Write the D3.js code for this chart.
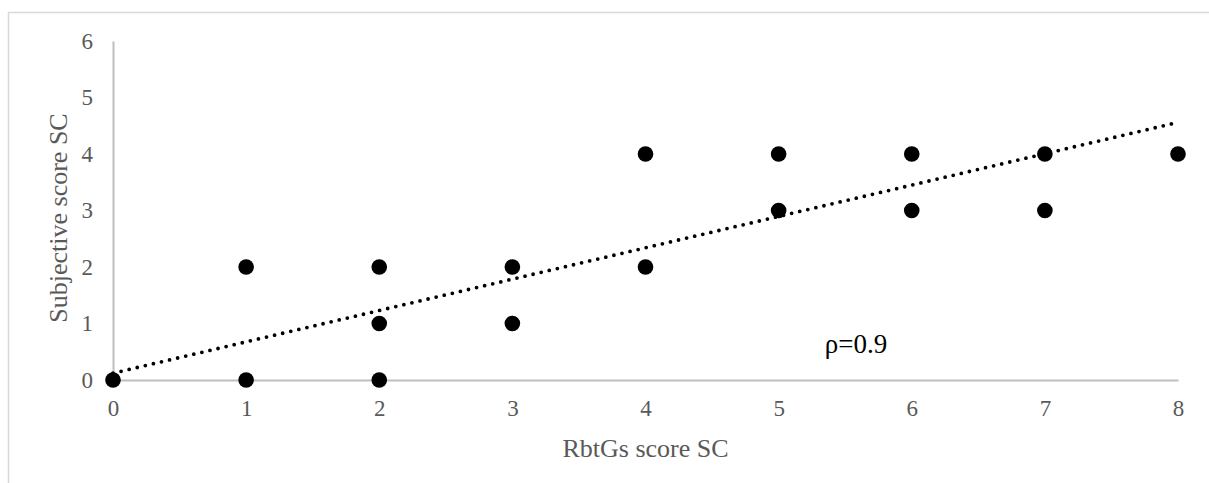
<!DOCTYPE html>
<html>
<head>
<meta charset="utf-8">
<script src="https://cdn.jsdelivr.net/npm/d3@7"></script>
<style>
  body { margin: 0; background: #fff; }
  svg { display: block; }
  .tick text { font-size: 23px !important; font-family: 'Liberation Serif', 'Times New Roman', serif; fill: #595959; }
</style>
</head>
<body>
<div id="vizcont"></div>
<script>
// data
var rbtgsScore = [0, 1, 1, 2, 2, 2, 3, 3, 4, 4, 5, 5, 6, 6, 7, 7, 8];
var subjectiveScore = [0, 2, 0, 2, 1, 0, 2, 1, 4, 2, 4, 3, 4, 3, 4, 3, 4];
var xTicks = [0, 1, 2, 3, 4, 5, 6, 7, 8];
var yTicks = [0, 1, 2, 3, 4, 5, 6];
// linear trend line (as drawn)
var trendIntercept = 0.12;
var trendSlope = 0.555;
var rhoLabel = "\u03C1=0.9";

function draw_scatter() {
  var width = 1209, height = 483;
  var margin = {top: 41, right: 31, bottom: 103, left: 113};

  var svg = d3.select("#vizcont")
    .append("svg")
    .attr("width", width)
    .attr("height", height);

  // chart area border (cut off at right and bottom)
  svg.append("rect")
    .attr("x", 8.5).attr("y", 12.5)
    .attr("width", width + 20).attr("height", height + 20)
    .attr("fill", "none")
    .attr("stroke", "#d9d9d9")
    .attr("stroke-width", 1.5);

  var x = d3.scaleLinear()
    .domain([0, 8])
    .range([margin.left, width - margin.right]);
  var y = d3.scaleLinear()
    .domain([0, 6])
    .range([height - margin.bottom, margin.top]);

  var font = "'Liberation Serif', 'Times New Roman', serif";

  // x axis
  var gx = svg.append("g")
    .attr("transform", "translate(0," + y(0) + ")")
    .call(d3.axisBottom(x).tickValues(xTicks).tickSize(0).tickPadding(20).tickFormat(d3.format("d")))
    .attr("font-size", 23)
    .attr("font-family", font);
  gx.select(".domain").attr("stroke", "#bfbfbf").attr("stroke-width", 2);

  // y axis
  var gy = svg.append("g")
    .attr("transform", "translate(" + x(0) + ",0)")
    .call(d3.axisLeft(y).tickValues(yTicks).tickSize(0).tickPadding(20).tickFormat(d3.format("d")))
    .attr("font-size", 23)
    .attr("font-family", font);
  gy.select(".domain").attr("stroke", "#bfbfbf").attr("stroke-width", 2);

  // axis titles
  svg.append("text")
    .attr("x", (x(0) + x(8)) / 2)
    .attr("y", 457)
    .attr("text-anchor", "middle")
    .attr("fill", "#595959")
    .attr("font-family", font)
    .attr("font-size", 26)
    .text("RbtGs score SC");

  svg.append("text")
    .attr("transform", "translate(67," + 218 + ") rotate(-90)")
    .attr("text-anchor", "middle")
    .attr("fill", "#595959")
    .attr("font-family", font)
    .attr("font-size", 26)
    .text("Subjective score SC");

  // trend line
  svg.append("line")
    .attr("x1", x(0)).attr("y1", y(trendIntercept))
    .attr("x2", x(8)).attr("y2", y(trendIntercept + trendSlope * 8))
    .attr("stroke", "#000")
    .attr("stroke-width", 3.8)
    .attr("stroke-linecap", "round")
    .attr("stroke-dasharray", "0 8.3");

  // points
  svg.selectAll("circle.dot")
    .data(rbtgsScore)
    .enter()
    .append("circle")
    .attr("class", "dot")
    .attr("cx", function(d) { return x(d); })
    .attr("cy", function(d, i) { return y(subjectiveScore[i]); })
    .attr("r", 7.8)
    .attr("fill", "#000");

  // correlation label
  svg.append("text")
    .attr("x", 856)
    .attr("y", 353)
    .attr("text-anchor", "middle")
    .attr("fill", "#000")
    .attr("font-family", font)
    .attr("font-size", 27)
    .text(rhoLabel);
}

draw_scatter();
</script>
</body>
</html>
